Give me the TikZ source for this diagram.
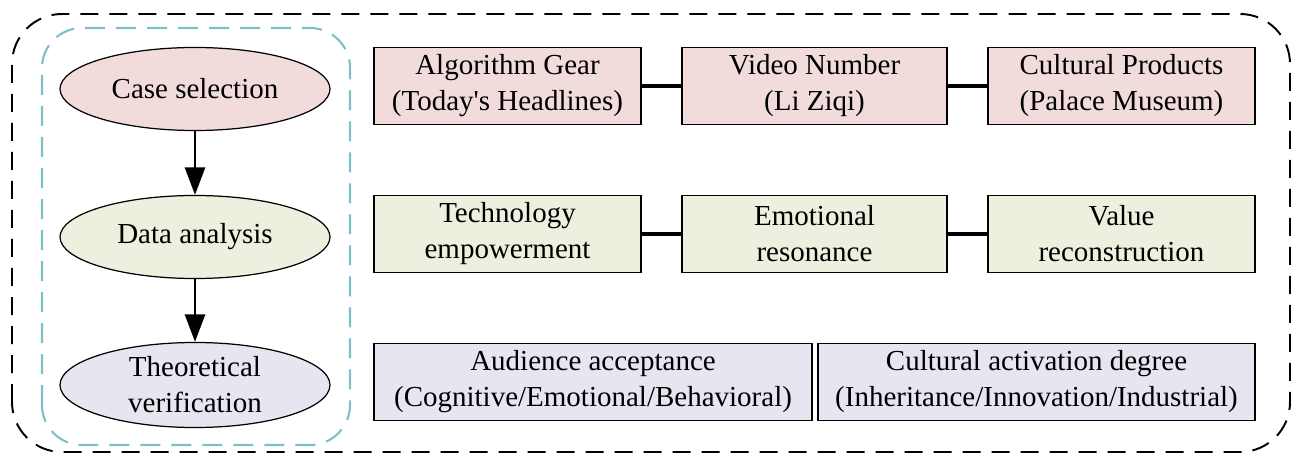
\documentclass[tikz,border=0pt]{standalone}
\usepackage{fontspec}
\setmainfont{Liberation Serif}
\usetikzlibrary{shapes,arrows.meta}
\definecolor{casepink}{RGB}{242,220,219}
\definecolor{datagreen}{RGB}{235,241,222}
\definecolor{theolav}{RGB}{231,230,240}
\definecolor{frameblue}{RGB}{125,192,203}

\begin{document}
\begin{tikzpicture}[
    stage/.style={ellipse, draw, line width=0.7pt, minimum width=5.4cm, minimum height=1.66cm, align=center, inner sep=0pt},
    itembox/.style={rectangle, draw, line width=0.8pt, minimum height=1.55cm, align=center, inner sep=0pt},
    flow/.style={-{Triangle[length=0.55cm,width=0.4cm]}, line width=1.6pt},
    link/.style={line width=1.8pt},
    font=\fontsize{16.5}{20.5}\selectfont
]
					\useasboundingbox (0,0) rectangle (25.96,9.12);
					\draw[dash pattern=on 0.36cm off 0.22cm, line width=1.1pt, rounded corners=1cm] (0.24,0.08) rectangle (25.8,8.84);
					\draw[frameblue, dash pattern=on 0.4cm off 0.22cm, line width=1.2pt, rounded corners=0.8cm] (0.84,0.22) rectangle (7.0,8.56);

					\node[stage, fill=casepink] (Case) at (3.9,7.34) {Case selection};
					\node[stage, fill=datagreen] (Data) at (3.9,4.38) {Data analysis};
					\node[stage, fill=theolav, minimum height=1.7cm] (Theory) at (3.9,1.42) {Theoretical\\verification};
					\draw[flow] (Case) -- (Data);
					\draw[flow] (Data) -- (Theory);

					\node[itembox, fill=casepink, minimum width=5.34cm] (Algo) at (10.15,7.4) {Algorithm Gear\\(Today\textquotesingle s Headlines)};
					\node[itembox, fill=casepink, minimum width=5.3cm] (Video) at (16.29,7.4) {Video Number\\(Li Ziqi)};
					\node[itembox, fill=casepink, minimum width=5.34cm] (Products) at (22.43,7.4) {Cultural Products\\(Palace Museum)};
					\draw[link] (Algo) -- (Video);
					\draw[link] (Video) -- (Products);

					\node[itembox, fill=datagreen, minimum width=5.34cm] (Tech) at (10.15,4.44) {Technology\\empowerment};
					\node[itembox, fill=datagreen, minimum width=5.3cm] (Emotion) at (16.29,4.44) {Emotional\\resonance};
					\node[itembox, fill=datagreen, minimum width=5.34cm] (Value) at (22.43,4.44) {Value\\reconstruction};
					\draw[link] (Tech) -- (Emotion);
					\draw[link] (Emotion) -- (Value);

					\node[itembox, fill=theolav, minimum width=8.76cm] (Audience) at (11.86,1.48) {Audience acceptance\\(Cognitive/Emotional/Behavioral)};
					\node[itembox, fill=theolav, minimum width=8.74cm] (Activation) at (20.73,1.48) {Cultural activation degree\\(Inheritance/Innovation/Industrial)};
\end{tikzpicture}
\end{document}
